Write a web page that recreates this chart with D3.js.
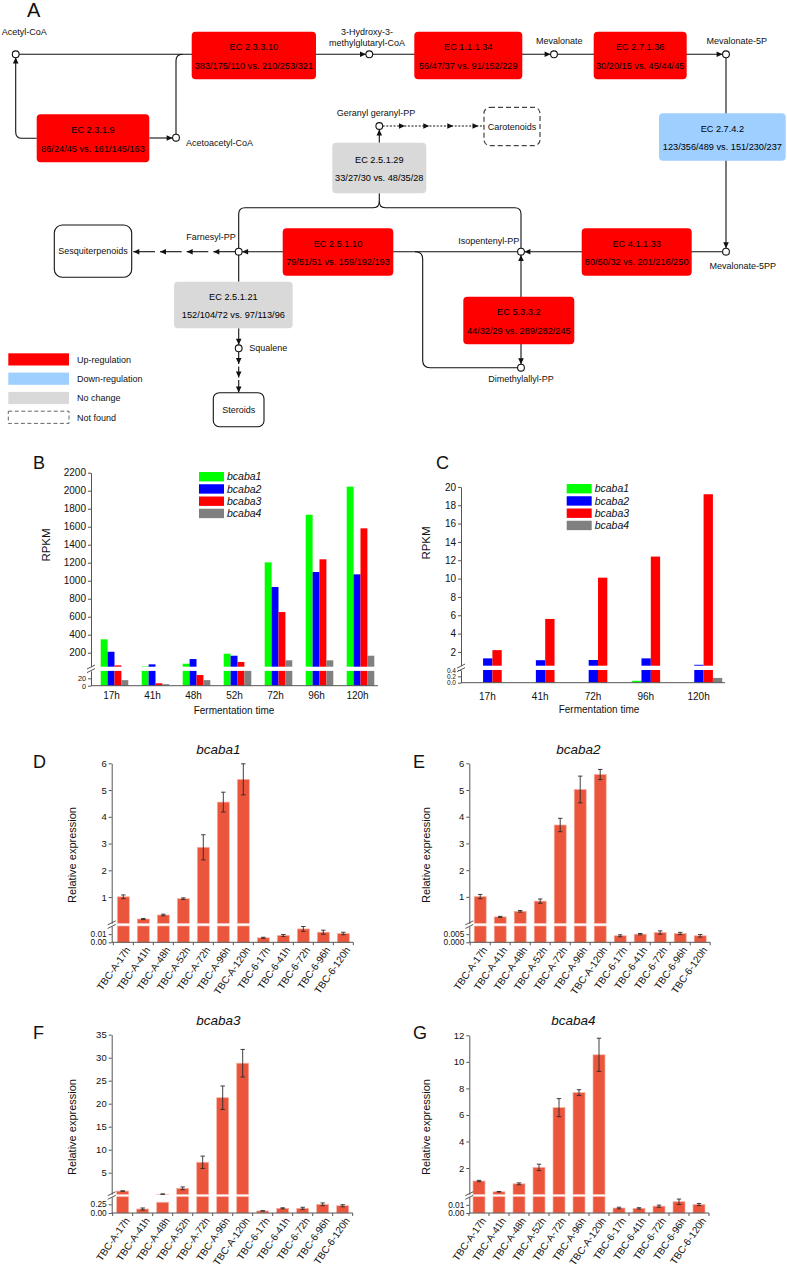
<!DOCTYPE html>
<html>
<head>
<meta charset="utf-8">
<script src="https://cdn.jsdelivr.net/npm/d3@7/dist/d3.min.js"></script>
<style>
html,body{margin:0;padding:0;background:#fff;}
svg{display:block;font-family:"Liberation Sans",Arial,Helvetica,sans-serif;}
</style>
</head>
<body>
<svg id="fig" width="787" height="1269" viewBox="0 0 787 1269"></svg>
<script>
// ================= DATA =================
// Panel A: pathway enzymes
const ecNumbers = ["EC 2.3.1.9","EC 2.3.3.10","EC 1.1.1.34","EC 2.7.1.36","EC 2.7.4.2","EC 4.1.1.33","EC 5.3.3.2","EC 2.5.1.10","EC 2.5.1.29","EC 2.5.1.21"];
const ecCounts = ["86/24/45 vs. 161/145/163","383/175/110 vs. 210/253/321","56/47/37 vs. 91/152/229","30/20/15 vs. 45/44/45","123/356/489 vs. 151/230/237","80/50/32 vs. 201/216/250","44/32/29 vs. 289/282/245","79/51/51 vs. 159/192/193","33/27/30 vs. 48/35/28","152/104/72 vs. 97/113/96"];
const ecStatus = ["up","up","up","up","down","up","up","up","none","none"];
const compoundNames = ["Acetyl-CoA","Acetoacetyl-CoA","3-Hydroxy-3-methylglutaryl-CoA","Mevalonate","Mevalonate-5P","Mevalonate-5PP","Isopentenyl-PP","Dimethylallyl-PP","Farnesyl-PP","Geranyl geranyl-PP","Squalene"];
const productNames = ["Carotenoids","Sesquiterpenoids","Steroids"];
const legendLabels = ["Up-regulation","Down-regulation","No change","Not found"];

// Panel B: RPKM, strain 1
const timesB = ["17h","41h","48h","52h","72h","96h","120h"];
const geneNames = ["bcaba1","bcaba2","bcaba3","bcaba4"];
const rpkmB_bcaba1 = [349, 50, 78, 189, 1204, 1733, 2045];
const rpkmB_bcaba2 = [211, 71, 130, 167, 930, 1097, 1071];
const rpkmB_bcaba3 = [60, 6.5, 29, 97, 652, 1238, 1582];
const rpkmB_bcaba4 = [15, 4, 15, 42, 116, 116, 167];
const ticksB_upper = [200,400,600,800,1000,1200,1400,1600,1800,2000,2200];
const ticksB_lower = [0,20];

// Panel C: RPKM, strain 2
const timesC = ["17h","41h","72h","96h","120h"];
const rpkmC_bcaba1 = [0, 0, 0, 0.06, 0];
const rpkmC_bcaba2 = [1.3, 1.1, 1.12, 1.3, 0.6];
const rpkmC_bcaba3 = [2.2, 5.6, 10.1, 12.4, 19.2];
const rpkmC_bcaba4 = [0, 0, 0, 0, 0.15];
const ticksC_upper = [2,4,6,8,10,12,14,16,18,20];
const ticksC_lower = [0,0.2,0.4];

// Panels D-G: qRT-PCR relative expression
const samples = ["TBC-A-17h","TBC-A-41h","TBC-A-48h","TBC-A-52h","TBC-A-72h","TBC-A-96h","TBC-A-120h","TBC-6-17h","TBC-6-41h","TBC-6-72h","TBC-6-96h","TBC-6-120h"];
const exprD_mean = [1.01, 0.18, 0.33, 0.94, 2.86, 4.55, 5.40, 0.0055, 0.0084, 0.0164, 0.0124, 0.0108];
const exprD_sd   = [0.07, 0.02, 0.03, 0.03, 0.47, 0.37, 0.58, 0.0007, 0.0012, 0.003, 0.0025, 0.0015];
const exprE_mean = [1.01, 0.25, 0.46, 0.84, 3.69, 5.02, 5.58, 0.0040, 0.0050, 0.0060, 0.0054, 0.0040];
const exprE_sd   = [0.08, 0.02, 0.03, 0.08, 0.25, 0.50, 0.19, 0.0006, 0.0004, 0.0010, 0.0007, 0.0008];
const exprF_mean = [1.0, 0.115, 0.31, 1.6, 7.26, 21.3, 28.8, 0.06, 0.135, 0.135, 0.25, 0.21];
const exprF_sd   = [0.05, 0.03, 0.06, 0.3, 1.35, 2.55, 3.0, 0.005, 0.015, 0.03, 0.04, 0.03];
const exprG_mean = [1.02, 0.21, 0.81, 2.05, 6.55, 7.68, 10.53, 0.0061, 0.0057, 0.0084, 0.0138, 0.0104];
const exprG_sd   = [0.05, 0.02, 0.07, 0.24, 0.68, 0.22, 1.25, 0.0010, 0.0008, 0.0013, 0.0033, 0.0013];
const ticksD_upper = [1,2,3,4,5,6], ticksD_lower = [0,0.01];
const ticksE_upper = [1,2,3,4,5,6], ticksE_lower = [0,0.005];
const ticksF_upper = [5,10,15,20,25,30,35], ticksF_lower = [0,0.25];
const ticksG_upper = [2,4,6,8,10,12], ticksG_lower = [0,0.01];

// ================= STYLE / LAYOUT =================
const ink = "#111";
const axisInk = "#555";
const statusColor = {up:"#ff0000", down:"#9fcfff", none:"#d9d9d9"};
const geneColors = ["#00ff00","#0000ff","#ff0000","#808080"];
const exprColor = "#ea553b";
const svg = d3.select("#fig");

// panel letters
const panelLetters = ["A","B","C","D","E","F","G"];
const letterPos = [[27,10],[33,463],[436,463],[33,762],[413,762],[33,1033],[413,1033]];
panelLetters.forEach((t,i)=>{
  svg.append("text").attr("x",letterPos[i][0]).attr("y",letterPos[i][1]).attr("dy","0.36em")
    .attr("font-size", i===0?20:18).attr("fill",ink).text(t);
});

// ================= PANEL A =================
const A = svg.append("g");
function arrow(g,x,y,dir){
  const L=6, W=2.8;
  const pts = {
    right:[[x,y],[x-L,y-W],[x-L,y+W]],
    left:[[x,y],[x+L,y-W],[x+L,y+W]],
    up:[[x,y],[x-W,y+L],[x+W,y+L]],
    down:[[x,y],[x-W,y-L],[x+W,y-L]]
  }[dir];
  g.append("path").attr("d", d3.line()(pts)+"Z").attr("fill",ink);
}
const edgeG = A.append("g").attr("fill","none").attr("stroke",ink).attr("stroke-width",1.1);
const edges = [
  "M19,54.3 H366",
  "M36.7,138.3 H22 Q15.7,138.3 15.7,132 V57.6",
  "M149.3,138 H172.6",
  "M176,134.6 V61 Q176,54.3 182.5,54.3",
  "M372.7,54.3 H550.6",
  "M557.4,54.3 H722.6",
  "M726,57.7 V248.3",
  "M722.6,251.7 H524.4",
  "M517.6,251.7 H242.1",
  "M415,251.7 Q422.7,251.7 422.7,259 V360.5 Q422.7,367.7 430,367.7 H517.6",
  "M521,255.1 V364.3",
  "M238.7,248.3 V214 Q238.7,207.7 245,207.7 H373.3 Q379.3,207.7 379.3,201.5 V193.3",
  "M521,248.3 V214 Q521,207.7 514.7,207.7 H385.3 Q379.3,207.7 379.3,201.5",
  "M379.3,142.7 V129.4",
  "M238.7,255.1 V281.7",
  "M238.7,328.3 V344.8"
];
edges.forEach(d=>edgeG.append("path").attr("d",d));
// dotted to carotenoids
edgeG.append("path").attr("d","M382.7,126 H484").attr("stroke-dasharray","2,1.6");
// dashed segments to sesquiterpenoids
[[213.3,235.3],[186.7,208.3],[160,181.7],[133.3,155]].forEach(([a,b])=>edgeG.append("path").attr("d",`M${a},251.7 H${b}`));
// dashed segments to steroids
[[351.8,364],[366.5,377.5],[380,392.5]].forEach(([a,b])=>edgeG.append("path").attr("d",`M238.7,${a} V${b}`));
// arrowheads
[[366,54.3,"right"],[15.7,57.6,"up"],[172.6,138,"right"],[550.6,54.3,"right"],[722.6,54.3,"right"],
 [726,248.3,"down"],[524.4,251.7,"left"],[242.1,251.7,"left"],[521,255.1,"up"],[521,364.3,"down"],
 [379.3,129.4,"up"],[238.7,344.8,"down"],
 [405,126,"right"],[429.3,126,"right"],[453.3,126,"right"],[478.5,126,"right"],
 [213.3,251.7,"left"],[186.7,251.7,"left"],[160,251.7,"left"],[133.3,251.7,"left"],
 [238.7,364,"down"],[238.7,377.5,"down"],[238.7,392.5,"down"]
].forEach(a=>arrow(A,a[0],a[1],a[2]));

// enzyme boxes
const boxLayout = [
  [36.7,114.3,112.6,48],[191.7,31.7,124.3,47.6],[414.3,31.7,108,47.6],[593.7,31.7,93,47.6],
  [659,113.3,126.7,47.4],[581.7,228.3,110,47.4],[463.3,296.7,111,47.6],[282.7,228.3,110.6,47.4],
  [332.3,142.7,94,50.6],[174,281.7,118.7,46.6]
];
ecNumbers.forEach((ec,i)=>{
  const [x,y,w,h] = boxLayout[i];
  const g = A.append("g");
  g.append("rect").attr("x",x).attr("y",y).attr("width",w).attr("height",h).attr("rx",4)
    .attr("fill",statusColor[ecStatus[i]]);
  g.append("text").attr("x",x+w/2).attr("y",y+h/2-8.5).attr("dy","0.35em").attr("text-anchor","middle")
    .attr("font-size",9.2).attr("fill","#000").text(ec);
  g.append("text").attr("x",x+w/2).attr("y",y+h/2+10).attr("dy","0.35em").attr("text-anchor","middle")
    .attr("font-size",9.2).attr("fill","#000").text(ecCounts[i]);
});

// product boxes
const productLayout = [[484,107.3,56,38.4,6,true],[54.3,225,77.4,52.3,8,false],[213.3,392.7,50.7,34,6,false]];
productNames.forEach((p,i)=>{
  const [x,y,w,h,r,dashed] = productLayout[i];
  A.append("rect").attr("x",x).attr("y",y).attr("width",w).attr("height",h).attr("rx",r)
    .attr("fill","#fff").attr("stroke",dashed?"#444":ink).attr("stroke-width",dashed?1.2:1.1)
    .attr("stroke-dasharray",dashed?"5,3":null);
  A.append("text").attr("x",x+w/2).attr("y",y+h/2).attr("dy","0.35em").attr("text-anchor","middle")
    .attr("font-size",9).attr("fill",ink).text(p);
});

// compound nodes
const nodeXY = [[15.7,54.3],[176,137.7],[369.3,54.3],[554,54.3],[726,54.3],[726,251.7],[521,251.7],[521,367.7],[238.7,251.7],[379.3,126],[238.7,348.3]];
const labelLayout = [
  [[1.7,31.7,"start"]],
  [[186,142.7,"start"]],
  [[367,31.7,"middle"],[367,43.3,"middle"]],
  [[559.3,40.7,"middle"]],
  [[736.7,40.7,"middle"]],
  [[742.7,266,"middle"]],
  [[519.3,241,"end"]],
  [[521,378.8,"middle"]],
  [[211,237.3,"middle"]],
  [[376,113.3,"middle"]],
  [[249.3,348.3,"start"]]
];
compoundNames.forEach((name,i)=>{
  A.append("circle").attr("cx",nodeXY[i][0]).attr("cy",nodeXY[i][1]).attr("r",3.4)
    .attr("fill","#fff").attr("stroke",ink).attr("stroke-width",1.1);
  const parts = labelLayout[i].length===2 ? ["3-Hydroxy-3-","methylglutaryl-CoA"] : [name];
  parts.forEach((t,k)=>{
    const [x,y,anc] = labelLayout[i][k];
    A.append("text").attr("x",x).attr("y",y).attr("dy","0.35em").attr("text-anchor",anc)
      .attr("font-size",9).attr("fill",ink).text(t);
  });
});

// legend
const legendFill = [statusColor.up, statusColor.down, statusColor.none, "#fff"];
legendLabels.forEach((t,i)=>{
  const y = 353.3 + i*19.3;
  A.append("rect").attr("x",8.3).attr("y",y).attr("width",60.7).attr("height",12.2)
    .attr("fill",legendFill[i])
    .attr("stroke", i===3?"#666":"none").attr("stroke-dasharray", i===3?"4,2.5":null);
  A.append("text").attr("x",77).attr("y",y+6.4).attr("dy","0.35em").attr("font-size",9).attr("fill",ink).text(t);
});

// ================= helpers for broken axes =================
function styleAxis(sel, fs){
  sel.selectAll("path,line").attr("stroke",axisInk).attr("stroke-width",1);
  sel.selectAll("text").attr("fill",ink).attr("font-size",fs).attr("font-family","Liberation Sans, Arial, sans-serif");
}
function brokenYAxis(g, o, yU, yL){
  const ax = g.append("g").attr("transform",`translate(${o.axisX},0)`);
  const up = ax.append("g").call(d3.axisLeft(yU).tickValues(o.upperTicks).tickSize(3).tickSizeOuter(0).tickPadding(2).tickFormat(o.upperFmt));
  const lo = ax.append("g").call(d3.axisLeft(yL).tickValues(o.lowerTicks).tickSize(3).tickSizeOuter(0).tickPadding(2).tickFormat(o.lowerFmt));
  styleAxis(up, o.tickFont); styleAxis(lo, o.lowerFont || o.tickFont);
  const yb = (yU.range()[0] + yL.range()[1]) / 2;
  [-1.8, 1.8].forEach(off=>{
    ax.append("line").attr("x1",-4).attr("x2",4).attr("y1",yb+off+2).attr("y2",yb+off-2)
      .attr("stroke",axisInk).attr("stroke-width",1);
  });
}

// ================= PANELS B & C =================
function groupedChart(o){
  const g = svg.append("g");
  const xb = d3.scaleBand().domain(o.cats).range([o.axisX, o.xEnd]);
  const xs = d3.scaleBand().domain(d3.range(o.series.length)).range([-o.groupW/2, o.groupW/2]);
  const yU = d3.scaleLinear().domain(o.upperDomain).range(o.upperRange);
  const yL = d3.scaleLinear().domain(o.lowerDomain).range(o.lowerRange);
  const uMin = o.upperDomain[0], uMax = o.upperDomain[1], lMax = o.lowerDomain[1];
  o.series.forEach((vals,si)=>{
    vals.forEach((v,ci)=>{
      if(!(v>0)) return;
      const x = xb(o.cats[ci]) + xb.bandwidth()/2 + o.shift + xs(si);
      const yTopL = yL(Math.min(v,lMax));
      g.append("rect").attr("x",x).attr("y",yTopL).attr("width",xs.bandwidth()).attr("height",yL(0)-yTopL).attr("fill",o.colors[si]);
      if(v>uMin){
        const yTopU = yU(Math.min(v,uMax));
        g.append("rect").attr("x",x).attr("y",yTopU).attr("width",xs.bandwidth()).attr("height",yU(uMin)-yTopU).attr("fill",o.colors[si]);
      }
    });
  });
  brokenYAxis(g,o,yU,yL);
  // x axis
  const xa = g.append("g").attr("transform",`translate(0,${yL(0)})`)
    .call(d3.axisBottom(xb).tickSize(0).tickPadding(o.labelPad));
  xa.select(".domain").attr("d",`M${o.axisX},0H${o.xEnd}`);
  styleAxis(xa, 10);
  g.append("text").attr("x",o.xTitleX).attr("y",o.xTitleY).attr("dy","0.35em").attr("text-anchor","middle")
    .attr("font-size",10).attr("fill",ink).text("Fermentation time");
  g.append("text").attr("transform",`translate(${o.yTitleX},${o.yTitleY}) rotate(-90)`).attr("dy","0.35em")
    .attr("text-anchor","middle").attr("font-size",11.5).attr("fill",ink).text("RPKM");
  // legend
  geneNames.forEach((name,i)=>{
    const y = o.legendY + i*12.25;
    g.append("rect").attr("x",o.legendX).attr("y",y-4.7).attr("width",25).attr("height",9.4).attr("fill",o.colors[i]);
    g.append("text").attr("x",o.legendX+28).attr("y",y).attr("dy","0.35em").attr("font-size",10.5)
      .attr("font-style","italic").attr("fill",ink).text(name);
  });
}

groupedChart({
  cats: timesB, series:[rpkmB_bcaba1,rpkmB_bcaba2,rpkmB_bcaba3,rpkmB_bcaba4], colors: geneColors,
  axisX: 91, xEnd: 378, groupW: 27.6, shift: 3,
  upperDomain:[45,2200], upperRange:[666.7,472.7], upperTicks: ticksB_upper, upperFmt: d3.format("d"),
  lowerDomain:[0,40], lowerRange:[685.7,670.9], lowerTicks: ticksB_lower, lowerFmt: d3.format("d"),
  tickFont: 10, lowerFont: 7.3, labelPad: 6,
  xTitleX: 234, xTitleY: 710, yTitleX: 46, yTitleY: 545,
  legendX: 199, legendY: 476.7
});

groupedChart({
  cats: timesC, series:[rpkmC_bcaba1,rpkmC_bcaba2,rpkmC_bcaba3,rpkmC_bcaba4], colors: geneColors,
  axisX: 461, xEnd: 725, groupW: 37.3, shift: 5,
  upperDomain:[0.5,20], upperRange:[665.7,486.9], upperTicks: ticksC_upper, upperFmt: d3.format("d"),
  lowerDomain:[0,0.4], lowerRange:[682.7,670], lowerTicks: ticksC_lower, lowerFmt: d3.format(".1f"),
  tickFont: 10, lowerFont: 6.5, labelPad: 10,
  xTitleX: 599, xTitleY: 709, yTitleX: 426, yTitleY: 543,
  legendX: 566.7, legendY: 488.7
});

// ================= PANELS D-G =================
function exprChart(o){
  const g = svg.append("g");
  const xb = d3.scaleBand().domain(samples).range(o.range).paddingInner(0.4).paddingOuter(0.2);
  const yU = d3.scaleLinear().domain(o.upperDomain).range(o.upperRange);
  const yL = d3.scaleLinear().domain(o.lowerDomain).range(o.lowerRange);
  const uMin = o.upperDomain[0], lMax = o.lowerDomain[1];
  const bw = xb.bandwidth();
  o.mean.forEach((v,i)=>{
    const x = xb(samples[i]);
    const yTopL = yL(Math.min(v,lMax));
    g.append("rect").attr("x",x).attr("y",yTopL).attr("width",bw).attr("height",yL(0)-yTopL)
      .attr("fill",exprColor).attr("stroke","#f5b3a4").attr("stroke-width",0.7);
    let s = yL;
    if(v>uMin){
      s = yU;
      const yTopU = yU(v);
      g.append("rect").attr("x",x).attr("y",yTopU).attr("width",bw).attr("height",yU(uMin)-yTopU)
        .attr("fill",exprColor).attr("stroke","#f5b3a4").attr("stroke-width",0.7);
    }
    const cx = x + bw/2, sd = o.sd[i];
    const y1 = s(v+sd), y2 = s(Math.max(v-sd, s===yU?uMin:0));
    const eg = g.append("g").attr("stroke","#2a2a2a").attr("stroke-width",0.9);
    eg.append("line").attr("x1",cx).attr("x2",cx).attr("y1",y1).attr("y2",y2);
    eg.append("line").attr("x1",cx-2.2).attr("x2",cx+2.2).attr("y1",y1).attr("y2",y1);
    eg.append("line").attr("x1",cx-2.2).attr("x2",cx+2.2).attr("y1",y2).attr("y2",y2);
  });
  brokenYAxis(g,o,yU,yL);
  // x axis
  const base = yL(0);
  const xa = g.append("g").attr("transform",`translate(0,${base})`).call(d3.axisBottom(xb).tickSize(0));
  xa.select(".domain").attr("d",`M${o.axisX},0H${o.range[1]}`);
  xa.selectAll(".tick text").attr("text-anchor","end").attr("x",-2).attr("y",7).attr("dy","0.35em")
    .attr("transform","rotate(-55)");
  styleAxis(xa, 10);
  d3.range(samples.length+1).forEach(k=>{
    const tx = xb.range()[0] + k*xb.step();
    g.append("line").attr("x1",tx).attr("x2",tx).attr("y1",base).attr("y2",base+3).attr("stroke",axisInk);
  });
  g.append("text").attr("x",o.titleX).attr("y",o.titleY).attr("dy","0.35em").attr("text-anchor","middle")
    .attr("font-size",13.5).attr("font-style","italic").attr("fill",ink).text(o.title);
  g.append("text").attr("transform",`translate(${o.ylabX},${o.ylabY}) rotate(-90)`).attr("dy","0.35em")
    .attr("text-anchor","middle").attr("font-size",11).attr("fill",ink).text("Relative expression");
}

exprChart({ mean: exprD_mean, sd: exprD_sd, title: "bcaba1", titleX: 218.3, titleY: 749.3,
  axisX: 111.7, range:[113.3,353.3],
  upperDomain:[0.02,6], upperRange:[923.3,763.3], upperTicks: ticksD_upper, upperFmt: d3.format("d"),
  lowerDomain:[0,0.02], lowerRange:[942.3,926], lowerTicks: ticksD_lower, lowerFmt: d3.format(".2f"),
  tickFont: 9.5, lowerFont: 8.3, ylabX: 71.7, ylabY: 855 });

exprChart({ mean: exprE_mean, sd: exprE_sd, title: "bcaba2", titleX: 578.3, titleY: 749.3,
  axisX: 469.3, range:[470.2,710.2],
  upperDomain:[0.01,6], upperRange:[923.3,763.3], upperTicks: ticksE_upper, upperFmt: d3.format("d"),
  lowerDomain:[0,0.01], lowerRange:[942.3,926], lowerTicks: ticksE_lower, lowerFmt: d3.format(".3f"),
  tickFont: 9.5, lowerFont: 8.3, ylabX: 426, ylabY: 855 });

exprChart({ mean: exprF_mean, sd: exprF_sd, title: "bcaba3", titleX: 218.3, titleY: 1020,
  axisX: 111.7, range:[112.7,352.7],
  upperDomain:[0.3,35], upperRange:[1194.3,1034.7], upperTicks: ticksF_upper, upperFmt: d3.format("d"),
  lowerDomain:[0,0.47], lowerRange:[1213,1196.7], lowerTicks: ticksF_lower, lowerFmt: d3.format(".2f"),
  tickFont: 9.5, lowerFont: 8.3, ylabX: 71.7, ylabY: 1127 });

exprChart({ mean: exprG_mean, sd: exprG_sd, title: "bcaba4", titleX: 573.3, titleY: 1020,
  axisX: 469.3, range:[469,709],
  upperDomain:[0.02,12], upperRange:[1194.3,1035.3], upperTicks: ticksG_upper, upperFmt: d3.format("d"),
  lowerDomain:[0,0.02], lowerRange:[1213,1196.7], lowerTicks: ticksG_lower, lowerFmt: d3.format(".2f"),
  tickFont: 9.5, lowerFont: 8.3, ylabX: 426, ylabY: 1127 });
</script>
</body>
</html>
